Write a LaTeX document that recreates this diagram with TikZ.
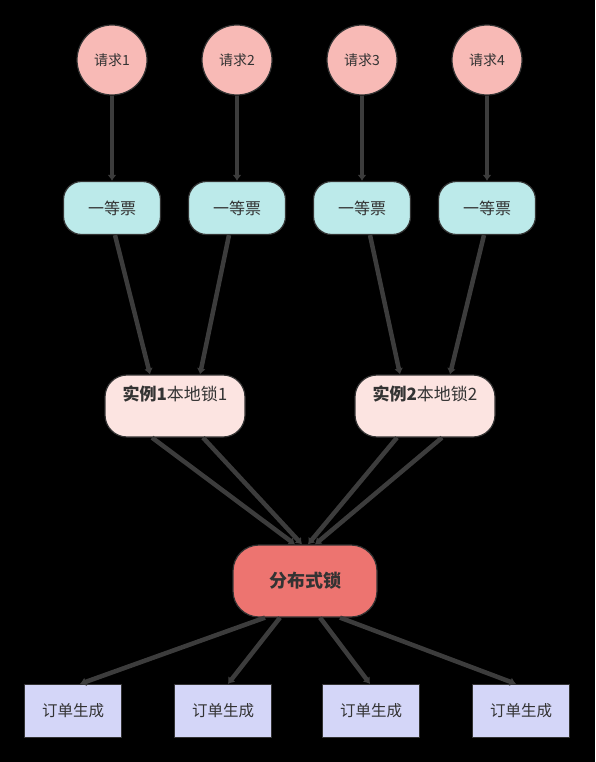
\documentclass[tikz,border=0pt]{standalone}
\usepackage{fontspec}
\setmainfont{Noto Sans CJK SC}
\usetikzlibrary{arrows.meta}
\usetikzlibrary{positioning}
\definecolor{custom-req}{RGB}{248, 186, 182}
\definecolor{custom-ticket}{RGB}{188, 234, 234}
\definecolor{custom-local}{RGB}{252, 228, 225}
\definecolor{custom-dist}{RGB}{237, 116, 112}
\definecolor{custom-order}{RGB}{212, 214, 248}
\definecolor{custom-line}{RGB}{60, 60, 60}
\definecolor{custom-text}{RGB}{51, 51, 51}
\tikzset{
  req/.style={circle, draw=custom-text, line width=1.2pt, fill=custom-req, minimum size=70pt, inner sep=0pt, text=custom-text, font=\fontsize{14}{16}\selectfont},
  ticket/.style={rectangle, rounded corners=18pt, draw=custom-text, line width=1.2pt, fill=custom-ticket, minimum width=97pt, minimum height=53pt, text=custom-text, font=\fontsize{16}{18}\selectfont},
  locallock/.style={rectangle, rounded corners=22pt, draw=custom-text, line width=1.2pt, fill=custom-local, minimum width=140pt, minimum height=62pt, text height=10pt, text depth=22pt, text=custom-text, font=\fontsize{17}{20}\selectfont},
  distlock/.style={rectangle, rounded corners=26pt, draw=custom-text, line width=1.2pt, fill=custom-dist, minimum width=144pt, minimum height=72pt, text=custom-text, font=\fontsize{18}{22}\selectfont\bfseries},
  order/.style={rectangle, draw=custom-text, line width=1.2pt, fill=custom-order, minimum width=97pt, minimum height=53pt, text=custom-text, font=\fontsize{15.5}{18}\selectfont},
  conn/.style={draw=custom-line, line width=4.5pt, -{Latex[length=6pt,width=9pt]}}
}

\begin{document}
\begin{tikzpicture}[x=1pt, y=-1pt]
\fill[black] (0,0) rectangle (595,762);
\useasboundingbox (0,0) rectangle (595,762);

\foreach \i/\x in {1/112, 2/237, 3/362, 4/487} {
  \node[req] (r\i) at (\x,60) {请求\i};
  \node[ticket] (t\i) at (\x,208) {一等票};
}
\node[locallock] (l1) at (175,406) {\textbf{实例1}本地锁1};
\node[locallock] (l2) at (425,406) {\textbf{实例2}本地锁2};
\node[distlock] (d) at (305,581) {分布式锁};
\foreach \i/\x in {1/73, 2/223, 3/371, 4/521}
  \node[order] (o\i) at (\x,711) {订单生成};

\foreach \i in {1,...,4}
  \draw[conn] (r\i) -- (t\i);

\draw[conn] ([xshift=3pt]t1.south) -- ([xshift=-25pt]l1.north);
\draw[conn] ([xshift=-8pt]t2.south) -- ([xshift=25pt]l1.north);
\draw[conn] ([xshift=8pt]t3.south) -- ([xshift=-25pt]l2.north);
\draw[conn] ([xshift=-3pt]t4.south) -- ([xshift=25pt]l2.north);

\draw[conn] ([xshift=-23pt]l1.south) -- ([xshift=-10pt]d.north);
\draw[conn] ([xshift=28pt]l1.south) -- ([xshift=-3pt]d.north);
\draw[conn] ([xshift=-28pt]l2.south) -- ([xshift=3pt]d.north);
\draw[conn] ([xshift=17pt]l2.south) -- ([xshift=10pt]d.north);

\draw[conn] ([xshift=-40pt]d.south) -- ([xshift=7pt]o1.north);
\draw[conn] ([xshift=-25pt]d.south) -- ([xshift=5pt]o2.north);
\draw[conn] ([xshift=15pt]d.south) -- ([xshift=-1pt]o3.north);
\draw[conn] ([xshift=35pt]d.south) -- ([xshift=-5pt]o4.north);
\end{tikzpicture}
\end{document}
